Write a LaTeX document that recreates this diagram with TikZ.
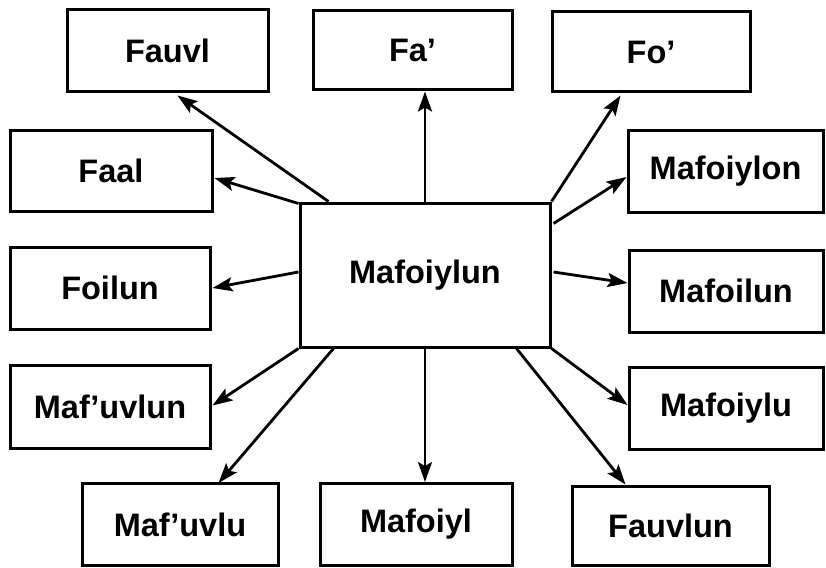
\documentclass[tikz,border=0pt]{standalone}
\usepackage{fontspec}
\setmainfont{Liberation Sans}
\usetikzlibrary{arrows.meta, calc}
\tikzstyle{arrow} = [line width=2.8pt,-{Stealth[length=20pt,width=14pt,inset=4pt]}]
\tikzstyle{form} = [rectangle, draw=black, line width=3pt, minimum width=200pt, minimum height=82pt, inner sep=0pt, text centered, font=\fontsize{32.5}{38}\selectfont\bfseries]

\begin{document}
\begin{tikzpicture}[x=1pt, y=-1pt]
\useasboundingbox (0,0) rectangle (826,567);
% Placement of boxes
\node (mid) [form, minimum width=250pt, minimum height=144pt] at (425,275) {Mafoiylun};
\node (fauvl) [form, minimum width=201pt] at (167.5,51) {Fauvl};
\node (fa) [form, minimum width=199pt, minimum height=79pt] at (412.5,50.5) {Fa’};
\node (fo) [form, minimum width=198pt, minimum height=80pt] at (651,52) {Fo’};
\node (faal) [form, minimum width=202pt, minimum height=81pt] at (111,170.5) {Faal};
\node (mafoiylon) [form, minimum width=195pt] at (725.5,171) {Mafoiylon};
\node (foilun) [form] at (110,288) {Foilun};
\node (mafoilun) [form, minimum width=194pt] at (726,291) {Mafoilun};
\node (mafuvlun) [form, minimum height=83pt] at (110,406.5) {Maf’uvlun};
\node (mafoiylu) [form, minimum width=194pt] at (726,408) {Mafoiylu};
\node (mafuvlu) [form, minimum width=196pt, minimum height=82pt] at (180,524.5) {Maf’uvlu};
\node (mafoiyl) [form, minimum width=192pt, minimum height=82pt] at (416,524.5) {Mafoiyl};
\node (fauvlun) [form, minimum width=197pt, minimum height=79pt] at (670.5,525.5) {Fauvlun};

% Drawing of arrows
\draw [arrow] ($(mid.north west)+(30,0)$) -- ($(fauvl.south west)+(112,2)$);
\draw [arrow] ($(mid.north west)+(0,2)$) -- ($(faal.east)+(1,7.5)$);
\draw [arrow] (mid.north) -- (mid.north |- fa.south);
\draw [arrow] (mid.north east) -- ($(fo.south west)+(70,2)$);
\draw [arrow] ($(mid.north east)+(2,22)$) -- ($(mafoiylon.west)+(0,6)$);
\draw [arrow] ($(mid.east)+(2,-3)$) -- ($(mafoilun.west)+(0,-8)$);
\draw [arrow] ($(mid.west)+(0,-3)$) -- ($(foilun.east)+(1,0)$);
\draw [arrow] (mid.south west) -- ($(mafuvlun.east)+(1,-1)$);
\draw [arrow] ($(mid.south west)+(35,0)$) -- ($(mafuvlu.north west)+(138,1)$);
\draw [arrow, line width=1.8pt] (mid.south) -- (mid.south |- mafoiyl.north);
\draw [arrow] ($(mid.south east)+(-35,0)$) -- ($(fauvlun.north west)+(55,0)$);
\draw [arrow] (mid.south east) -- ($(mafoiylu.west)+(0,-3)$);
\end{tikzpicture}
\end{document}
